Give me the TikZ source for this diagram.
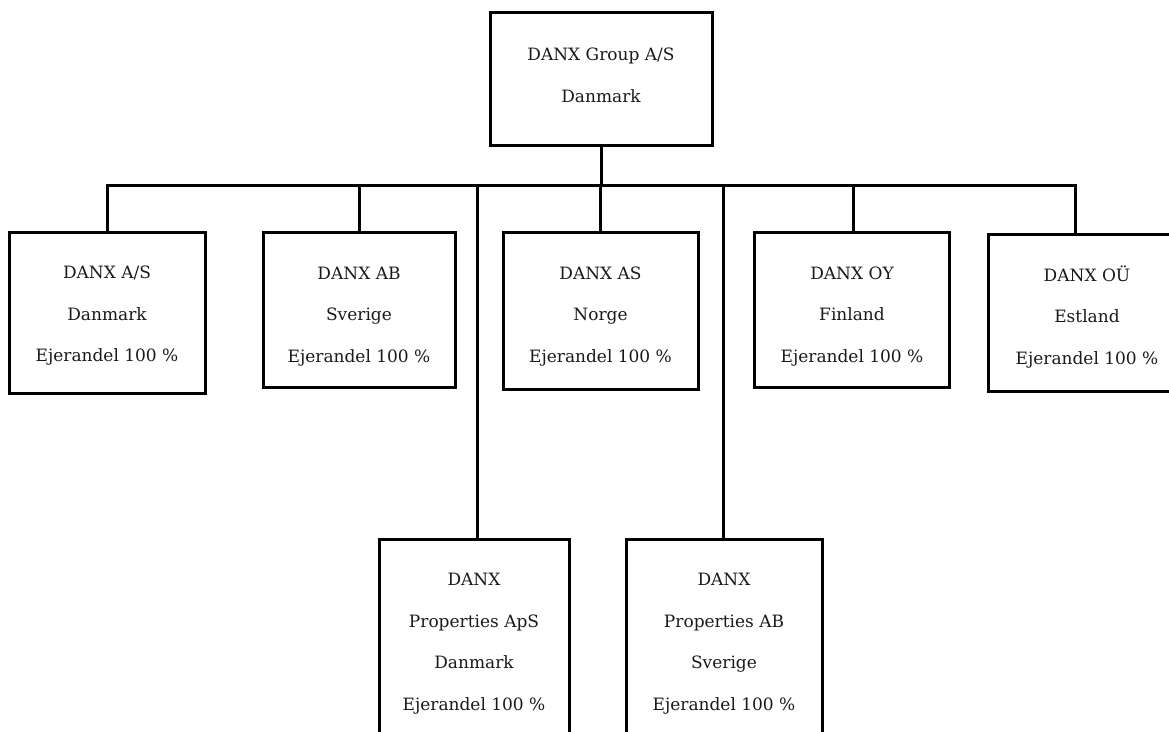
\documentclass[tikz,border=0pt]{standalone}
\usepackage{fontspec}
\setmainfont{DejaVu Serif}
\begin{document}
\begin{tikzpicture}[x=1pt,y=-1pt,
  box/.style={draw, line width=3pt, inner sep=0pt},
  lbl/.style={inner sep=0pt, align=center, font=\fontsize{17}{41.5}\selectfont, text=black!90},
  conn/.style={line width=3pt}]
\useasboundingbox (0,0) rectangle (1169,731);
\clip (0,0) rectangle (1169,731);
% boxes
\node[box, minimum width=222pt, minimum height=133pt] (top) at (601,78.5) {};
\node[box, minimum width=196pt, minimum height=161pt] (b1) at (107,312.5) {};
\node[box, minimum width=192pt, minimum height=155pt] (b2) at (359,309.5) {};
\node[box, minimum width=195pt, minimum height=157pt] (b3) at (600.5,310.5) {};
\node[box, minimum width=195pt, minimum height=155pt] (b4) at (851.5,309.5) {};
\node[box, minimum width=196pt, minimum height=157pt] (b5) at (1086,312.5) {};
\node[box, minimum width=190pt, minimum height=209pt] (b6) at (474,643.5) {};
\node[box, minimum width=196pt, minimum height=209pt] (b7) at (724,643.5) {};
% texts
\node[lbl] (t0) at (601,75.5) {DANX Group A/S\\Danmark};
\node[lbl] (t1) at (107,316) {DANX A/S\\Danmark\\Ejerandel 100 \%};
\node[lbl] (t2) at (359,316.5) {DANX AB\\Sverige\\Ejerandel 100 \%};
\node[lbl] (t3) at (600.5,316.5) {DANX AS\\Norge\\Ejerandel 100 \%};
\node[lbl] (t4) at (852,316.5) {DANX OY\\Finland\\Ejerandel 100 \%};
\node[lbl] (t5) at (1087,317) {DANX OÜ\\Estland\\Ejerandel 100 \%};
\node[lbl] (t6) at (474,643.5) {DANX\\Properties ApS\\Danmark\\Ejerandel 100 \%};
\node[lbl] (t7) at (724,643.5) {DANX\\Properties AB\\Sverige\\Ejerandel 100 \%};
% connectors
\coordinate (bar) at (0,185);
\draw[conn] (top.south) -- (top.south |- bar);
\draw[conn] (b1.north) -- (b1.north |- bar) -- ([xshift=-11pt]b5.north |- bar) -- ([xshift=-11pt]b5.north);
\draw[conn] (b2.north) -- (b2.north |- bar);
\draw[conn] (b3.north) -- (b3.north |- bar);
\draw[conn] ([xshift=1.5pt]b4.north) -- ([xshift=1.5pt]b4.north |- bar);
\draw[conn] ([xshift=3.5pt]b6.north) -- ([xshift=3.5pt]b6.north |- bar);
\draw[conn] ([xshift=-1pt]b7.north) -- ([xshift=-1pt]b7.north |- bar);
\end{tikzpicture}
\end{document}
